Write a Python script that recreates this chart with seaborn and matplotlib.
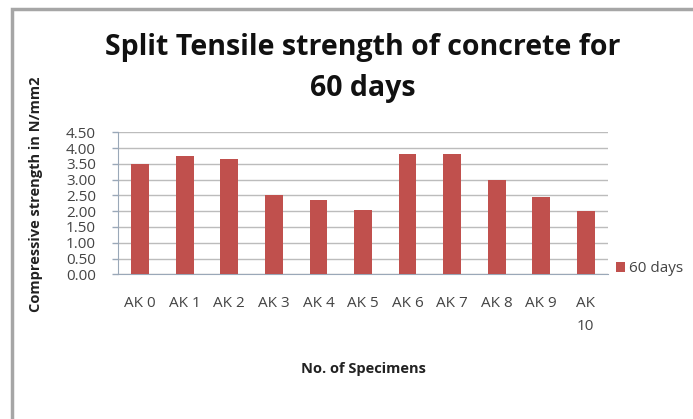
import matplotlib
matplotlib.use("Agg")
import matplotlib.pyplot as plt
import matplotlib.patches as mpatches
import seaborn as sns
import pandas as pd

specimens = ["AK 0", "AK 1", "AK 2", "AK 3", "AK 4", "AK 5", "AK 6", "AK 7", "AK 8", "AK 9", "AK 10"]
tick_labels = ["AK 0", "AK 1", "AK 2", "AK 3", "AK 4", "AK 5", "AK 6", "AK 7", "AK 8", "AK 9", "AK\n10"]
strength_60 = [3.49, 3.76, 3.65, 2.51, 2.35, 2.04, 3.80, 3.82, 2.99, 2.44, 2.01]
y_ticks = [0.0, 0.5, 1.0, 1.5, 2.0, 2.5, 3.0, 3.5, 4.0, 4.5]

sns.set_style("white")
plt.rcParams["font.family"] = ["Open Sans", "DejaVu Sans"]

df = pd.DataFrame({"Specimen": specimens, "Strength": strength_60, "Series": "60 days"})

W, H = 693, 419
fig = plt.figure(figsize=(W / 100, H / 100), dpi=100)
fig.patch.set_facecolor("white")

# outer chart frame
frame = mpatches.Rectangle((12 / W, -0.05), 1.0, (H - 9) / H + 0.05,
                           transform=fig.transFigure, fill=False,
                           edgecolor="#a6a6a6", linewidth=2.5, zorder=0)
fig.patches.append(frame)

ax = fig.add_axes([118 / W, (H - 274.3) / H, (608 - 118) / W, (274.3 - 132.3) / H])
sns.barplot(data=df, x="Specimen", y="Strength", hue="Series",
            palette=["#c0504d"], saturation=1, width=0.4, linewidth=0,
            ax=ax, zorder=3)

ax.set_ylim(0, 4.5)
ax.set_xlim(-0.5, len(specimens) - 0.5)
ax.set_yticks(y_ticks)
ax.set_yticklabels([f"{v:.2f}" for v in y_ticks], fontsize=11, color="#444444")
ax.set_xticks(range(len(specimens)))
ax.set_xticklabels(tick_labels, fontsize=11, color="#444444", linespacing=1.75)
ax.yaxis.grid(True, color="#bcbcbc", linewidth=1.0, zorder=0)
ax.set_axisbelow(True)

for side in ["top", "right"]:
    ax.spines[side].set_visible(False)
ax.spines["left"].set_color("#9aa8b8")
ax.spines["bottom"].set_color("#9aa8b8")
ax.tick_params(axis="y", which="major", left=True, length=4, width=1, color="#9aa8b8", pad=12)
ax.tick_params(axis="x", which="major", bottom=False, pad=12)

ax.set_xlabel("No. of Specimens", fontsize=10.5, fontweight="bold", labelpad=20, color="#222222")
ax.set_ylabel("Compressive strength in N/mm2", fontsize=10.5, fontweight="bold", color="#222222")
ax.yaxis.set_label_coords(-0.153, 0.565)

leg = ax.legend(loc="center left", bbox_to_anchor=(1.0, 0.04), frameon=False,
                fontsize=11, handlelength=0.6, handleheight=0.6, handletextpad=0.3,
                borderaxespad=0.1)
for t in leg.get_texts():
    t.set_color("#444444")

fig.text(363 / W, 1 - 55 / H, "Split Tensile strength of concrete for",
         ha="center", va="baseline", fontsize=20.5, fontweight="bold", color="#111111")
fig.text(363 / W, 1 - 96 / H, "60 days",
         ha="center", va="baseline", fontsize=20.5, fontweight="bold", color="#111111")

fig.savefig("out.png", dpi=100)
